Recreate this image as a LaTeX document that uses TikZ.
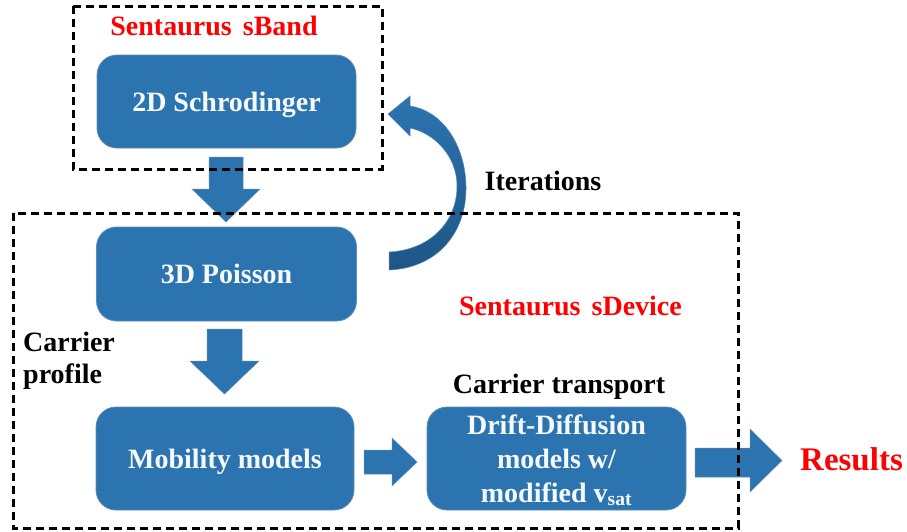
\documentclass[tikz,border=0pt]{standalone}
\usepackage{fontspec}
\setmainfont{Liberation Serif}
\usetikzlibrary{calc}
\definecolor{boxblue}{RGB}{44,116,176}
\definecolor{boxedge}{RGB}{92,140,184}
\definecolor{darkblue}{RGB}{30,86,134}
\definecolor{txtwhite}{RGB}{246,249,252}
\definecolor{redtxt}{RGB}{255,0,0}
\begin{document}
\begin{tikzpicture}[x=1pt,y=-1pt,
  procbox/.style={draw=boxedge, line width=0.8pt, fill=boxblue, rounded corners=20pt,
    text=txtwhite, font=\bfseries\fontsize{28}{34}\selectfont, align=center,
    inner sep=0pt, text height=19pt, text depth=0pt},
  blockarrow/.style={fill=boxblue, draw=boxedge, line width=0.5pt},
  groupbox/.style={draw=black, line width=3pt, dash pattern=on 8pt off 5pt},
  lbl/.style={font=\bfseries\fontsize{28}{32}\selectfont, inner sep=0pt, anchor=base},
]
\useasboundingbox (0,0) rectangle (907,531);
\fill[white] (0,0) rectangle (907,531);

% process boxes
\node[procbox, minimum width=259pt, minimum height=93pt] (s2d) at (226.5,101.5) {2D Schrodinger};
\node[procbox, minimum width=260pt, minimum height=94pt] (p3d) at (226.5,274) {3D Poisson};
\node[procbox, minimum width=258pt, minimum height=103pt] (mob) at (225,458.5) {Mobility models};
\node[procbox, minimum width=259pt, minimum height=103pt, text height=87pt] (dd) at (556.5,458.5)
  {Drift-Diffusion\\models w/\\modified v\textsubscript{sat}};

% block arrows
\draw[blockarrow] (209,157) -- (243,157) -- (243,189) -- (260,189) -- (226,222) -- (192,189) -- (209,189) -- cycle;
\draw[blockarrow] (207,329) -- (242,329) -- (242,361) -- (259,361) -- (224.5,394) -- (190,361) -- (207,361) -- cycle;
\draw[blockarrow] (364,450) -- (392,450) -- (392,438) -- (417,462) -- (392,486) -- (392,474) -- (364,474) -- cycle;
\draw[blockarrow] (695,448) -- (750,448) -- (750,429) -- (782,460.5) -- (750,492) -- (750,477) -- (695,477) -- cycle;

% curved iteration arrow
\shade[top color=boxblue, bottom color=darkblue, draw=boxedge, line width=0.5pt]
  (389,252) -- (389,270)
  .. controls (438,268) and (467,232) .. (466,186)
  .. controls (465,142) and (440,110) .. (410,106)
  -- (410,96) -- (388,114) -- (410,136) -- (410,128)
  .. controls (434,133) and (457,156) .. (457,186)
  .. controls (457,222) and (430,250) .. (389,252) -- cycle;

% labels
\node[lbl, text=redtxt] (tband) at (214,35) {Sentaurus\hspace{0.4em}sBand};
\node[lbl] (titer) at (543,190) {Iterations};
\node[lbl, text=redtxt] (tdev) at (570.5,315) {Sentaurus\hspace{0.4em}sDevice};
\node[lbl, anchor=base west] (tcar1) at (23,351) {Carrier};
\node[lbl, anchor=base west] (tcar2) at (23,383) {profile};
\node[lbl] (ttrans) at (559,393) {Carrier transport};
\node[lbl, text=redtxt, font=\bfseries\fontsize{33}{38}\selectfont] (tres) at (851.5,470) {Results};

% dashed group boxes
\draw[groupbox] (73,6) rectangle (382,169);
\draw[groupbox] (13,213) rectangle (738,528);
\end{tikzpicture}
\end{document}
